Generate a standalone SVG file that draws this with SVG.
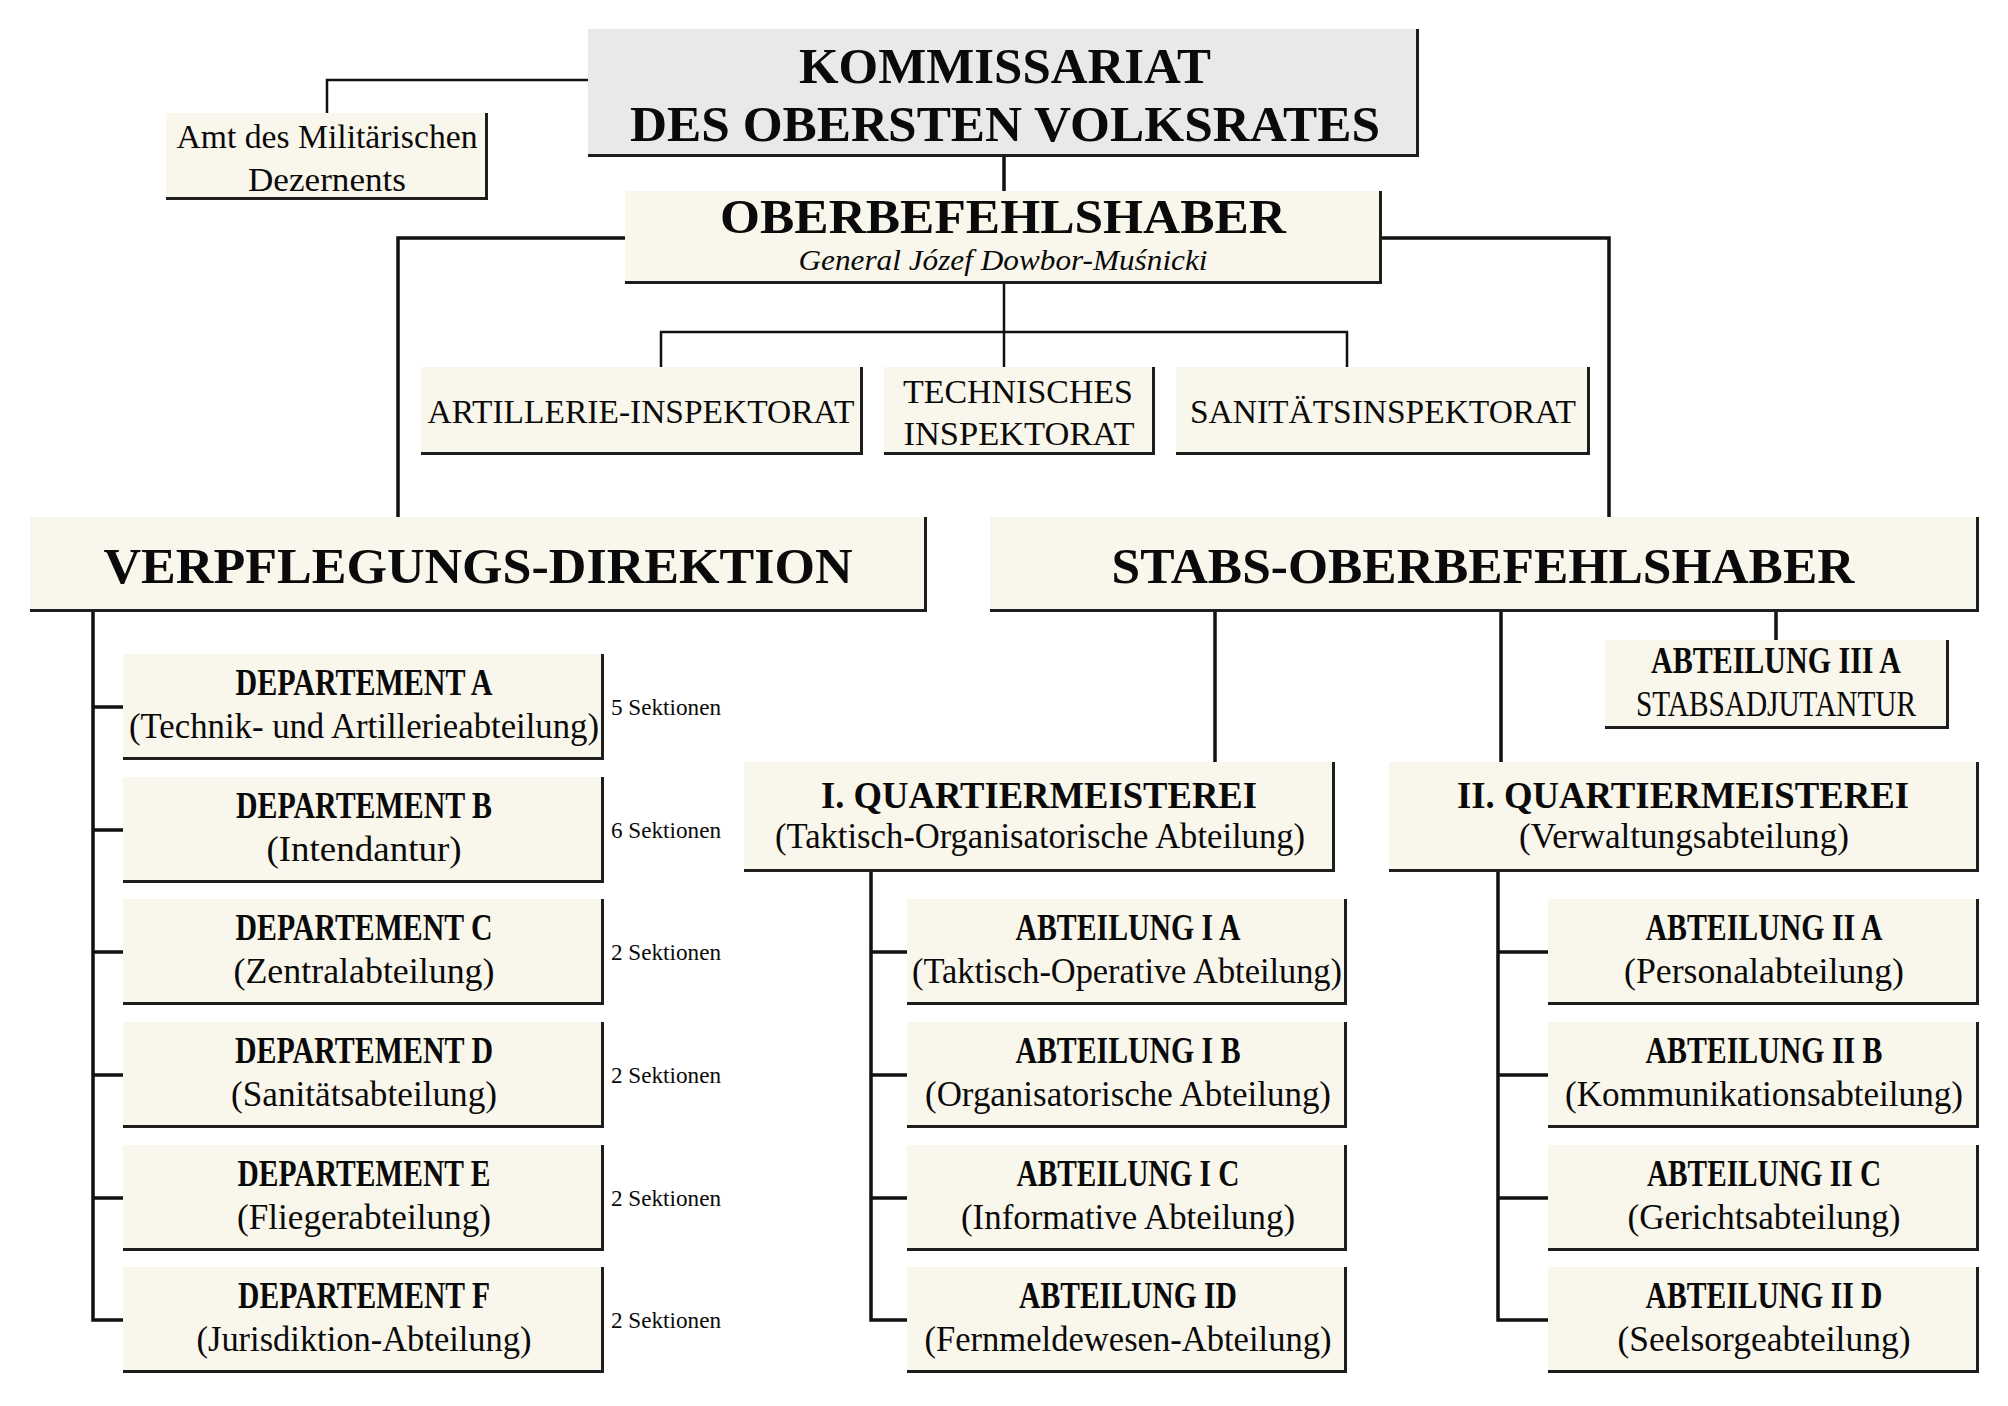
<svg xmlns="http://www.w3.org/2000/svg" width="2008" height="1406" viewBox="0 0 2008 1406">
<style>
  .box { fill: #f9f6eb; }
  .boxg { fill: #ebe8e8; }
  .sh { fill: none; stroke: #1e1e1e; stroke-width: 3; }
  .thick { fill: none; stroke: #111; stroke-width: 3.5; }
  .thin { fill: none; stroke: #111; stroke-width: 2.5; }
  text { font-family: "Liberation Serif", "Times New Roman", serif; fill: #0a0a0a; text-anchor: middle; }
  .b { font-weight: bold; }
  .t50 { font-size: 50px; }
  .t48 { font-size: 48px; }
  .t38 { font-size: 38px; }
  .t36 { font-size: 37px; }
  .t34 { font-size: 35px; }
  .t33 { font-size: 34px; }
  .it { font-style: italic; font-size: 30px; }
  .sek { font-size: 24px; text-anchor: start; }
</style>
<rect width="2008" height="1406" fill="#ffffff"/>

<g id="connectors">
  <polyline class="thin" points="327,113 327,80 588,80"/>
  <line class="thick" x1="1004" y1="157" x2="1004" y2="191"/>
  <polyline class="thick" points="625,238 398,238 398,517"/>
  <polyline class="thick" points="1382,238 1609,238 1609,517"/>
  <line class="thin" x1="1004" y1="284" x2="1004" y2="367"/>
  <polyline class="thin" points="661,367 661,332 1347,332 1347,367"/>
  <polyline class="thick" points="93,612 93,1320 123,1320"/>
  <line class="thick" x1="93" y1="707" x2="123" y2="707"/>
  <line class="thick" x1="93" y1="830" x2="123" y2="830"/>
  <line class="thick" x1="93" y1="952" x2="123" y2="952"/>
  <line class="thick" x1="93" y1="1075" x2="123" y2="1075"/>
  <line class="thick" x1="93" y1="1198" x2="123" y2="1198"/>
  <line class="thick" x1="1215" y1="612" x2="1215" y2="762"/>
  <line class="thick" x1="1501" y1="612" x2="1501" y2="762"/>
  <line class="thick" x1="1776" y1="612" x2="1776" y2="640"/>
  <polyline class="thick" points="871,872 871,1320 907,1320"/>
  <line class="thick" x1="871" y1="952" x2="907" y2="952"/>
  <line class="thick" x1="871" y1="1075" x2="907" y2="1075"/>
  <line class="thick" x1="871" y1="1198" x2="907" y2="1198"/>
  <polyline class="thick" points="1498,872 1498,1320 1548,1320"/>
  <line class="thick" x1="1498" y1="952" x2="1548" y2="952"/>
  <line class="thick" x1="1498" y1="1075" x2="1548" y2="1075"/>
  <line class="thick" x1="1498" y1="1198" x2="1548" y2="1198"/>
</g>

<g id="kommissariat">
  <rect class="boxg" x="588" y="29" width="831" height="128"/>
  <path class="sh" d="M1417.5,29 V155.5 H588"/>
  <text class="b t50" x="1005" y="83" textLength="412" lengthAdjust="spacingAndGlyphs">KOMMISSARIAT</text>
  <text class="b t50" x="1005" y="141" textLength="750" lengthAdjust="spacingAndGlyphs">DES OBERSTEN VOLKSRATES</text>
</g>

<g id="amt">
  <rect class="box" x="166" y="113" width="322" height="87"/>
  <path class="sh" d="M486.5,113 V198.5 H166"/>
  <text class="t33" x="327" y="148" textLength="301" lengthAdjust="spacingAndGlyphs">Amt des Militärischen</text>
  <text class="t33" x="327" y="191" textLength="158" lengthAdjust="spacingAndGlyphs">Dezernents</text>
</g>

<g id="oberbefehlshaber">
  <rect class="box" x="625" y="191" width="757" height="93"/>
  <path class="sh" d="M1380.5,191 V282.5 H625"/>
  <text class="b t48" x="1003" y="233" textLength="566" lengthAdjust="spacingAndGlyphs">OBERBEFEHLSHABER</text>
  <text class="it" x="1003" y="270" textLength="409" lengthAdjust="spacingAndGlyphs">General Józef Dowbor-Muśnicki</text>
</g>

<g id="artillerie">
  <rect class="box" x="421" y="367" width="442" height="88"/>
  <path class="sh" d="M861.5,367 V453.5 H421"/>
  <text class="t33" x="641" y="423" textLength="427" lengthAdjust="spacingAndGlyphs">ARTILLERIE-INSPEKTORAT</text>
</g>

<g id="technisches">
  <rect class="box" x="884" y="367" width="271" height="88"/>
  <path class="sh" d="M1153.5,367 V453.5 H884"/>
  <text class="t33" x="1018" y="403" textLength="230" lengthAdjust="spacingAndGlyphs">TECHNISCHES</text>
  <text class="t33" x="1019" y="445" textLength="231" lengthAdjust="spacingAndGlyphs">INSPEKTORAT</text>
</g>

<g id="sanitaets">
  <rect class="box" x="1176" y="367" width="414" height="88"/>
  <path class="sh" d="M1588.5,367 V453.5 H1176"/>
  <text class="t33" x="1383" y="423" textLength="386" lengthAdjust="spacingAndGlyphs">SANITÄTSINSPEKTORAT</text>
</g>

<g id="verpflegung">
  <rect class="box" x="30" y="517" width="897" height="95"/>
  <path class="sh" d="M925.5,517 V610.5 H30"/>
  <text class="b t50" x="478" y="583" textLength="749" lengthAdjust="spacingAndGlyphs">VERPFLEGUNGS-DIREKTION</text>
</g>

<g id="stabs">
  <rect class="box" x="990" y="517" width="989" height="95"/>
  <path class="sh" d="M1977.5,517 V610.5 H990"/>
  <text class="b t50" x="1483" y="583" textLength="743" lengthAdjust="spacingAndGlyphs">STABS-OBERBEFEHLSHABER</text>
</g>

<g id="abt3a">
  <rect class="box" x="1605" y="640" width="344" height="89"/>
  <path class="sh" d="M1947.5,640 V727.5 H1605"/>
  <text class="b t36" x="1776" y="673" textLength="250" lengthAdjust="spacingAndGlyphs">ABTEILUNG III A</text>
  <text class="t34" x="1776" y="716" textLength="280" lengthAdjust="spacingAndGlyphs">STABSADJUTANTUR</text>
</g>

<g id="quart1">
  <rect class="box" x="744" y="762" width="591" height="110"/>
  <path class="sh" d="M1333.5,762 V870.5 H744"/>
  <text class="b t38" x="1039" y="808" textLength="436" lengthAdjust="spacingAndGlyphs">I. QUARTIERMEISTEREI</text>
  <text class="t34" x="1040" y="848" textLength="530" lengthAdjust="spacingAndGlyphs">(Taktisch-Organisatorische Abteilung)</text>
</g>

<g id="quart2">
  <rect class="box" x="1389" y="762" width="590" height="110"/>
  <path class="sh" d="M1977.5,762 V870.5 H1389"/>
  <text class="b t38" x="1683" y="808" textLength="452" lengthAdjust="spacingAndGlyphs">II. QUARTIERMEISTEREI</text>
  <text class="t34" x="1684" y="848" textLength="330" lengthAdjust="spacingAndGlyphs">(Verwaltungsabteilung)</text>
</g>

<g id="depA">
  <rect class="box" x="123" y="654" width="481" height="106"/>
  <path class="sh" d="M602.5,654 V758.5 H123"/>
  <text class="b t36" x="364" y="695" textLength="257" lengthAdjust="spacingAndGlyphs">DEPARTEMENT A</text>
  <text class="t34" x="364" y="738" textLength="470" lengthAdjust="spacingAndGlyphs">(Technik- und Artillerieabteilung)</text>
  <text class="sek" x="611" y="715" textLength="110" lengthAdjust="spacingAndGlyphs">5 Sektionen</text>
</g>
<g id="depB">
  <rect class="box" x="123" y="777" width="481" height="106"/>
  <path class="sh" d="M602.5,777 V881.5 H123"/>
  <text class="b t36" x="364" y="818" textLength="256" lengthAdjust="spacingAndGlyphs">DEPARTEMENT B</text>
  <text class="t34" x="364" y="861" textLength="195" lengthAdjust="spacingAndGlyphs">(Intendantur)</text>
  <text class="sek" x="611" y="838" textLength="110" lengthAdjust="spacingAndGlyphs">6 Sektionen</text>
</g>
<g id="depC">
  <rect class="box" x="123" y="899" width="481" height="106"/>
  <path class="sh" d="M602.5,899 V1003.5 H123"/>
  <text class="b t36" x="364" y="940" textLength="257" lengthAdjust="spacingAndGlyphs">DEPARTEMENT C</text>
  <text class="t34" x="364" y="983" textLength="261" lengthAdjust="spacingAndGlyphs">(Zentralabteilung)</text>
  <text class="sek" x="611" y="960" textLength="110" lengthAdjust="spacingAndGlyphs">2 Sektionen</text>
</g>
<g id="depD">
  <rect class="box" x="123" y="1022" width="481" height="106"/>
  <path class="sh" d="M602.5,1022 V1126.5 H123"/>
  <text class="b t36" x="364" y="1063" textLength="258" lengthAdjust="spacingAndGlyphs">DEPARTEMENT D</text>
  <text class="t34" x="364" y="1106" textLength="266" lengthAdjust="spacingAndGlyphs">(Sanitätsabteilung)</text>
  <text class="sek" x="611" y="1083" textLength="110" lengthAdjust="spacingAndGlyphs">2 Sektionen</text>
</g>
<g id="depE">
  <rect class="box" x="123" y="1145" width="481" height="106"/>
  <path class="sh" d="M602.5,1145 V1249.5 H123"/>
  <text class="b t36" x="364" y="1186" textLength="253" lengthAdjust="spacingAndGlyphs">DEPARTEMENT E</text>
  <text class="t34" x="364" y="1229" textLength="254" lengthAdjust="spacingAndGlyphs">(Fliegerabteilung)</text>
  <text class="sek" x="611" y="1206" textLength="110" lengthAdjust="spacingAndGlyphs">2 Sektionen</text>
</g>
<g id="depF">
  <rect class="box" x="123" y="1267" width="481" height="106"/>
  <path class="sh" d="M602.5,1267 V1371.5 H123"/>
  <text class="b t36" x="364" y="1308" textLength="252" lengthAdjust="spacingAndGlyphs">DEPARTEMENT F</text>
  <text class="t34" x="364" y="1351" textLength="335" lengthAdjust="spacingAndGlyphs">(Jurisdiktion-Abteilung)</text>
  <text class="sek" x="611" y="1328" textLength="110" lengthAdjust="spacingAndGlyphs">2 Sektionen</text>
</g>

<g id="abt1a">
  <rect class="box" x="907" y="899" width="440" height="106"/>
  <path class="sh" d="M1345.5,899 V1003.5 H907"/>
  <text class="b t36" x="1128" y="940" textLength="225" lengthAdjust="spacingAndGlyphs">ABTEILUNG I A</text>
  <text class="t34" x="1127" y="983" textLength="430" lengthAdjust="spacingAndGlyphs">(Taktisch-Operative Abteilung)</text>
</g>
<g id="abt1b">
  <rect class="box" x="907" y="1022" width="440" height="106"/>
  <path class="sh" d="M1345.5,1022 V1126.5 H907"/>
  <text class="b t36" x="1128" y="1063" textLength="225" lengthAdjust="spacingAndGlyphs">ABTEILUNG I B</text>
  <text class="t34" x="1128" y="1106" textLength="406" lengthAdjust="spacingAndGlyphs">(Organisatorische Abteilung)</text>
</g>
<g id="abt1c">
  <rect class="box" x="907" y="1145" width="440" height="106"/>
  <path class="sh" d="M1345.5,1145 V1249.5 H907"/>
  <text class="b t36" x="1128" y="1186" textLength="223" lengthAdjust="spacingAndGlyphs">ABTEILUNG I C</text>
  <text class="t34" x="1128" y="1229" textLength="334" lengthAdjust="spacingAndGlyphs">(Informative Abteilung)</text>
</g>
<g id="abt1d">
  <rect class="box" x="907" y="1267" width="440" height="106"/>
  <path class="sh" d="M1345.5,1267 V1371.5 H907"/>
  <text class="b t36" x="1128" y="1308" textLength="218" lengthAdjust="spacingAndGlyphs">ABTEILUNG ID</text>
  <text class="t34" x="1128" y="1351" textLength="407" lengthAdjust="spacingAndGlyphs">(Fernmeldewesen-Abteilung)</text>
</g>

<g id="abt2a">
  <rect class="box" x="1548" y="899" width="431" height="106"/>
  <path class="sh" d="M1977.5,899 V1003.5 H1548"/>
  <text class="b t36" x="1764" y="940" textLength="237" lengthAdjust="spacingAndGlyphs">ABTEILUNG II A</text>
  <text class="t34" x="1764" y="983" textLength="280" lengthAdjust="spacingAndGlyphs">(Personalabteilung)</text>
</g>
<g id="abt2b">
  <rect class="box" x="1548" y="1022" width="431" height="106"/>
  <path class="sh" d="M1977.5,1022 V1126.5 H1548"/>
  <text class="b t36" x="1764" y="1063" textLength="237" lengthAdjust="spacingAndGlyphs">ABTEILUNG II B</text>
  <text class="t34" x="1764" y="1106" textLength="398" lengthAdjust="spacingAndGlyphs">(Kommunikationsabteilung)</text>
</g>
<g id="abt2c">
  <rect class="box" x="1548" y="1145" width="431" height="106"/>
  <path class="sh" d="M1977.5,1145 V1249.5 H1548"/>
  <text class="b t36" x="1764" y="1186" textLength="234" lengthAdjust="spacingAndGlyphs">ABTEILUNG II C</text>
  <text class="t34" x="1764" y="1229" textLength="273" lengthAdjust="spacingAndGlyphs">(Gerichtsabteilung)</text>
</g>
<g id="abt2d">
  <rect class="box" x="1548" y="1267" width="431" height="106"/>
  <path class="sh" d="M1977.5,1267 V1371.5 H1548"/>
  <text class="b t36" x="1764" y="1308" textLength="237" lengthAdjust="spacingAndGlyphs">ABTEILUNG II D</text>
  <text class="t34" x="1764" y="1351" textLength="293" lengthAdjust="spacingAndGlyphs">(Seelsorgeabteilung)</text>
</g>
</svg>
